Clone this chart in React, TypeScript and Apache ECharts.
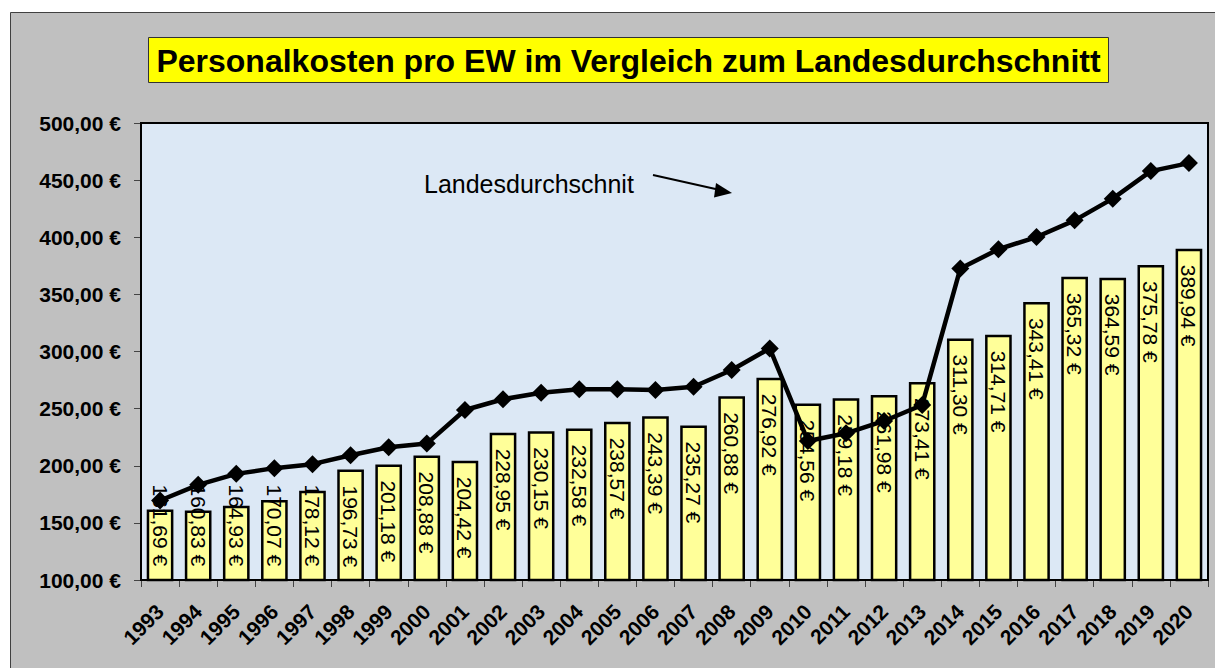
import React, { useEffect, useRef } from "react";
import * as echarts from "echarts";

const years = ["1993","1994","1995","1996","1997","1998","1999","2000","2001","2002","2003","2004","2005","2006","2007","2008","2009","2010","2011","2012","2013","2014","2015","2016","2017","2018","2019","2020"];
const personalkosten = [161.69,160.83,164.93,170.07,178.12,196.73,201.18,208.88,204.42,228.95,230.15,232.58,238.57,243.39,235.27,260.88,276.92,254.56,259.18,261.98,273.41,311.30,314.71,343.41,365.32,364.59,375.78,389.94];
const landesdurchschnitt = [169.6,183.3,192.9,197.9,201.4,209.2,216.2,219.4,248.8,258.2,263.9,266.9,266.9,266.3,269.2,283.8,302.7,221.7,228.4,239.2,253.2,372.6,389.5,400.2,414.8,433.8,457.9,464.9];
const yMin = 100;
const yMax = 500;
const yStep = 50;
const titleText = "Personalkosten pro EW im Vergleich zum Landesdurchschnitt";
const annotationText = "Landesdurchschnit";

const fmt = (v: number) => v.toFixed(2).replace(".", ",") + " €";
const FONT = "'Liberation Sans', Arial, Helvetica, sans-serif";

export default function App() {
  const ref = useRef<HTMLDivElement>(null);
  useEffect(() => {
    document.body.style.margin = "0";
    if (!ref.current) return;
    const chart = echarts.init(ref.current, undefined, { renderer: "svg" });
    const barData = personalkosten.map((v) => {
      const short = v < 190;
      return {
        value: v,
        label: short
          ? { position: "insideBottom", align: "right", distance: 15 }
          : { position: "insideTop", align: "left", distance: 16 },
      };
    });
    chart.setOption({
      animation: false,
      backgroundColor: "#ffffff",
      textStyle: { fontFamily: FONT },
      grid: {
        left: 141,
        top: 123,
        width: 1067,
        height: 457,
        show: true,
        backgroundColor: "#dce8f5",
        borderColor: "#000000",
        borderWidth: 2,
        z: 1,
      },
      xAxis: {
        type: "category",
        data: years,
        boundaryGap: true,
        axisLine: { show: true, lineStyle: { color: "#000", width: 2 } },
        axisTick: { show: true, length: 7, lineStyle: { color: "#444", width: 1 } },
        axisLabel: {
          rotate: 45,
          interval: 0,
          margin: 28,
          color: "#000",
          fontWeight: "bold",
          fontSize: 21,
          fontFamily: FONT,
        },
        splitLine: { show: false },
      },
      yAxis: {
        type: "value",
        min: yMin,
        max: yMax,
        interval: yStep,
        axisLine: { show: true, lineStyle: { color: "#000", width: 2 } },
        axisTick: { show: true, length: 7, lineStyle: { color: "#444", width: 1 } },
        axisLabel: {
          margin: 20,
          color: "#000",
          fontWeight: "bold",
          fontSize: 21,
          fontFamily: FONT,
          formatter: (v: number) => fmt(v),
        },
        splitLine: { show: false },
      },
      series: [
        {
          type: "bar",
          data: barData,
          barWidth: "70%",
          z: 2,
          itemStyle: { color: "#ffff99", borderColor: "#000", borderWidth: 2.5 },
          label: {
            show: true,
            rotate: -90,
            verticalAlign: "middle",
            color: "#000",
            fontSize: 21,
            fontFamily: FONT,
            formatter: (p: any) => fmt(p.value),
          },
        },
        {
          type: "line",
          data: landesdurchschnitt,
          z: 5,
          symbol: "diamond",
          symbolSize: 18,
          lineStyle: { color: "#000", width: 4.5 },
          itemStyle: { color: "#000" },
        },
      ],
      graphic: [
        {
          type: "rect",
          z: -100,
          silent: true,
          shape: { x: 10.5, y: 12.5, width: 1220, height: 670 },
          style: { fill: "#c0c0c0", stroke: "#404040", lineWidth: 1 },
        },
        {
          type: "rect",
          z: 10,
          shape: { x: 148.5, y: 37.5, width: 960, height: 45 },
          style: { fill: "#ffff00", stroke: "#333", lineWidth: 1 },
        },
        {
          type: "text",
          z: 11,
          x: 628.5,
          y: 61,
          style: {
            text: titleText,
            fill: "#000",
            font: `bold 32px ${FONT}`,
            align: "center",
            verticalAlign: "middle",
          },
        },
        {
          type: "text",
          z: 11,
          x: 424,
          y: 184,
          style: {
            text: annotationText,
            fill: "#000",
            font: `25px ${FONT}`,
            align: "left",
            verticalAlign: "middle",
          },
        },
        {
          type: "line",
          z: 11,
          shape: { x1: 653, y1: 175, x2: 720, y2: 190 },
          style: { stroke: "#000", lineWidth: 2 },
        },
        {
          type: "polygon",
          z: 11,
          shape: { points: [[732, 193], [716, 183], [714, 197.5]] },
          style: { fill: "#000" },
        },
      ],
    });
    return () => chart.dispose();
  }, []);
  return <div ref={ref} style={{ width: 1215, height: 668 }} />;
}
